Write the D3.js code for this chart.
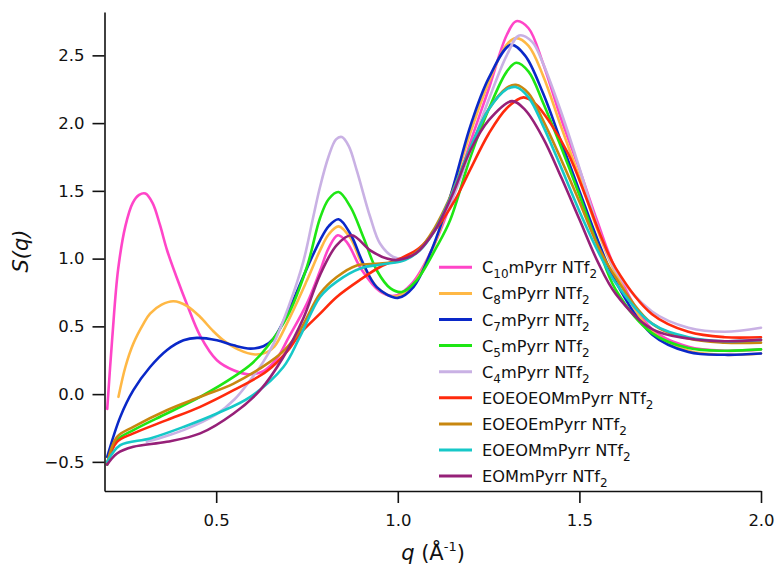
<!DOCTYPE html>
<html>
<head>
<meta charset="utf-8">
<script src="https://cdn.jsdelivr.net/npm/d3@7"></script>
<style>
  html, body { margin: 0; padding: 0; background: #fff; }
  svg { display: block; }
  text { font-family: "DejaVu Sans", sans-serif; fill: #111; }
</style>
</head>
<body>
<svg id="chart" width="775" height="570"></svg>
<script>
// Structure factor S(q) of pyrrolidinium NTf2 ionic liquids: [q (Å^-1), S(q)] knots
const c10mPyrr = [[0.2,-0.11],[0.214,0.42],[0.23,0.92],[0.25,1.24],[0.27,1.41],[0.288,1.47],[0.305,1.48],[0.325,1.41],[0.345,1.25],[0.365,1.06],[0.39,0.87],[0.42,0.66],[0.456,0.43],[0.502,0.25],[0.548,0.176],[0.588,0.147],[0.63,0.17],[0.667,0.262],[0.7,0.42],[0.75,0.67],[0.786,0.91],[0.81,1.08],[0.835,1.172],[0.86,1.12],[0.9,0.92],[0.95,0.76],[0.99,0.725],[1.04,0.82],[1.1,1.1],[1.15,1.44],[1.2,1.86],[1.25,2.25],[1.3,2.65],[1.326,2.752],[1.36,2.7],[1.4,2.44],[1.45,2.03],[1.5,1.66],[1.55,1.27],[1.6,0.92],[1.7,0.48],[1.8,0.35],[1.9,0.32],[2.0,0.33]];
const c8mPyrr = [[0.231,-0.02],[0.25,0.2],[0.272,0.373],[0.3,0.52],[0.318,0.594],[0.35,0.66],[0.3825,0.685],[0.42,0.65],[0.456,0.569],[0.49,0.47],[0.52,0.397],[0.56,0.33],[0.607,0.292],[0.64,0.31],[0.66,0.35],[0.7,0.55],[0.75,0.84],[0.786,1.061],[0.81,1.18],[0.837,1.238],[0.87,1.15],[0.9,0.97],[0.95,0.77],[0.995,0.72],[1.04,0.8],[1.1,1.1],[1.15,1.5],[1.2,1.93],[1.25,2.3],[1.3,2.58],[1.326,2.627],[1.36,2.57],[1.4,2.35],[1.45,1.97],[1.5,1.6],[1.55,1.21],[1.6,0.89],[1.7,0.46],[1.8,0.32],[1.9,0.29],[2.0,0.3]];
const c7mPyrr = [[0.2,-0.463],[0.236,-0.168],[0.272,0.029],[0.318,0.2],[0.364,0.324],[0.41,0.397],[0.447,0.415],[0.502,0.397],[0.548,0.36],[0.594,0.336],[0.63,0.353],[0.658,0.41],[0.7,0.62],[0.75,0.93],[0.786,1.135],[0.81,1.24],[0.837,1.29],[0.87,1.18],[0.905,0.963],[0.942,0.79],[1.0,0.71],[1.043,0.79],[1.089,1.037],[1.144,1.454],[1.2,1.98],[1.25,2.33],[1.311,2.578],[1.35,2.5],[1.4,2.22],[1.45,1.86],[1.5,1.5],[1.55,1.14],[1.6,0.83],[1.7,0.44],[1.8,0.31],[1.9,0.29],[2.0,0.3]];
const c5mPyrr = [[0.2,-0.52],[0.227,-0.34],[0.272,-0.266],[0.364,-0.143],[0.456,-0.02],[0.548,0.127],[0.6,0.23],[0.64,0.348],[0.695,0.569],[0.75,0.94],[0.786,1.3],[0.81,1.44],[0.837,1.491],[0.87,1.38],[0.905,1.159],[0.942,0.914],[0.98,0.78],[1.011,0.754],[1.052,0.84],[1.107,1.086],[1.144,1.283],[1.2,1.75],[1.25,2.1],[1.3,2.38],[1.326,2.445],[1.36,2.38],[1.4,2.15],[1.45,1.82],[1.5,1.47],[1.55,1.1],[1.6,0.77],[1.7,0.45],[1.8,0.34],[1.9,0.32],[2.0,0.33]];
const c4mPyrr = [[0.309,-0.352],[0.35,-0.32],[0.41,-0.266],[0.5,-0.15],[0.55,-0.04],[0.594,0.103],[0.63,0.24],[0.658,0.373],[0.7,0.65],[0.74,0.98],[0.765,1.28],[0.786,1.53],[0.809,1.75],[0.83,1.88],[0.846,1.897],[0.865,1.83],[0.887,1.651],[0.924,1.307],[0.951,1.111],[0.988,1.012],[1.02,1.0],[1.06,1.06],[1.1,1.2],[1.15,1.44],[1.2,1.8],[1.25,2.17],[1.3,2.5],[1.334,2.647],[1.37,2.6],[1.4,2.44],[1.45,2.08],[1.5,1.67],[1.55,1.24],[1.6,0.91],[1.7,0.61],[1.8,0.49],[1.9,0.46],[2.0,0.49]];
const eoeoeomPyrr = [[0.2,-0.51],[0.227,-0.352],[0.272,-0.29],[0.364,-0.192],[0.456,-0.094],[0.548,0.029],[0.64,0.17],[0.7,0.33],[0.731,0.447],[0.786,0.594],[0.832,0.717],[0.9,0.85],[0.951,0.938],[1.016,1.012],[1.06,1.08],[1.1,1.2],[1.157,1.43],[1.2,1.66],[1.25,1.92],[1.3,2.11],[1.346,2.19],[1.38,2.14],[1.42,2.0],[1.47,1.77],[1.52,1.44],[1.56,1.16],[1.6,0.93],[1.7,0.59],[1.8,0.46],[1.9,0.42],[2.0,0.42]];
const eoeoemPyrr = [[0.2,-0.51],[0.227,-0.316],[0.272,-0.242],[0.364,-0.119],[0.456,-0.02],[0.548,0.078],[0.649,0.24],[0.69,0.33],[0.731,0.471],[0.786,0.742],[0.832,0.864],[0.887,0.95],[0.951,0.963],[1.016,0.99],[1.06,1.07],[1.1,1.22],[1.14,1.43],[1.2,1.82],[1.25,2.1],[1.3,2.26],[1.325,2.283],[1.36,2.22],[1.4,2.02],[1.45,1.73],[1.5,1.42],[1.55,1.1],[1.6,0.86],[1.7,0.52],[1.8,0.41],[1.9,0.38],[2.0,0.38]];
const eoeommPyrr = [[0.2,-0.5],[0.236,-0.377],[0.318,-0.327],[0.41,-0.242],[0.502,-0.143],[0.594,-0.02],[0.685,0.2],[0.73,0.42],[0.786,0.717],[0.832,0.83],[0.9,0.93],[0.95,0.955],[1.02,0.99],[1.06,1.06],[1.1,1.2],[1.14,1.42],[1.2,1.82],[1.25,2.1],[1.3,2.25],[1.325,2.266],[1.36,2.19],[1.4,1.98],[1.45,1.67],[1.5,1.35],[1.55,1.06],[1.6,0.82],[1.7,0.52],[1.8,0.42],[1.9,0.39],[2.0,0.4]];
const eommPyrr = [[0.2,-0.52],[0.227,-0.438],[0.272,-0.389],[0.364,-0.352],[0.456,-0.29],[0.548,-0.143],[0.621,0.029],[0.685,0.274],[0.74,0.56],[0.786,0.88],[0.832,1.1],[0.873,1.172],[0.924,1.061],[0.97,1.0],[1.0,0.99],[1.05,1.04],[1.1,1.2],[1.15,1.47],[1.2,1.8],[1.25,2.02],[1.314,2.162],[1.35,2.1],[1.4,1.89],[1.45,1.6],[1.5,1.29],[1.55,0.98],[1.6,0.74],[1.7,0.48],[1.8,0.41],[1.9,0.39],[2.0,0.4]];

// Legend labels: [main, subscript, main, subscript]
const labels = [
  ["C", "10", "mPyrr NTf", "2"],
  ["C", "8", "mPyrr NTf", "2"],
  ["C", "7", "mPyrr NTf", "2"],
  ["C", "5", "mPyrr NTf", "2"],
  ["C", "4", "mPyrr NTf", "2"],
  ["EOEOEOMmPyrr NTf", "2"],
  ["EOEOEmPyrr NTf", "2"],
  ["EOEOMmPyrr NTf", "2"],
  ["EOMmPyrr NTf", "2"]
];
const seriesData = [c10mPyrr, c8mPyrr, c7mPyrr, c5mPyrr, c4mPyrr, eoeoeomPyrr, eoeoemPyrr, eoeommPyrr, eommPyrr];
const colors = ["#ff45c8", "#ffb845", "#0a28c8", "#1ee614", "#c9b1e4", "#ff2a0c", "#c8870f", "#16c8c8", "#962078"];

const xTicks = [0.5, 1.0, 1.5, 2.0];
const yTicks = [-0.5, 0.0, 0.5, 1.0, 1.5, 2.0, 2.5];
const xDomain = [0.1925, 2.0];
const yDomain = [-0.715, 2.82];

const svg = d3.select("#chart");
const plot = { left: 104.5, right: 761, top: 12, bottom: 491 };

const x = d3.scaleLinear().domain(xDomain).range([plot.left, plot.right]);
const y = d3.scaleLinear().domain(yDomain).range([plot.bottom, plot.top]);

svg.append("rect").attr("width", 775).attr("height", 570).attr("fill", "#fff");

// curves
const line = d3.line()
  .x(d => x(d[0]))
  .y(d => y(d[1]))
  .curve(d3.curveCatmullRom.alpha(0.5));

svg.append("g")
  .selectAll("path")
  .data(seriesData)
  .join("path")
  .attr("d", line)
  .attr("fill", "none")
  .attr("stroke", (d, i) => colors[i])
  .attr("stroke-width", 2.6)
  .attr("stroke-linejoin", "round")
  .attr("stroke-linecap", "round");

// axes
const fmt = d3.format(".1f");
const xAxis = svg.append("g")
  .attr("transform", `translate(0,${plot.bottom})`)
  .call(d3.axisBottom(x).tickValues(xTicks).tickFormat(fmt).tickSize(12).tickSizeOuter(0).tickPadding(11));
const yAxis = svg.append("g")
  .attr("transform", `translate(${plot.left},0)`)
  .call(d3.axisLeft(y).tickValues(yTicks).tickFormat(fmt).tickSize(12).tickSizeOuter(0).tickPadding(8));

[xAxis, yAxis].forEach(g => {
  g.select(".domain").attr("stroke", "#111").attr("stroke-width", 1.6);
  g.selectAll(".tick line").attr("stroke", "#111").attr("stroke-width", 1.6);
  g.selectAll(".tick text")
    .attr("font-family", "DejaVu Sans, sans-serif")
    .attr("font-size", 16.5)
    .attr("fill", "#111");
});

// axis titles
const yTitle = svg.append("text")
  .attr("transform", "translate(28,251) rotate(-90)")
  .attr("text-anchor", "middle")
  .attr("font-size", 21)
  .attr("font-style", "italic");
yTitle.text("S(q)");

const xTitle = svg.append("text")
  .attr("x", 433)
  .attr("y", 560)
  .attr("text-anchor", "middle")
  .attr("font-size", 21);
xTitle.append("tspan").attr("font-style", "italic").text("q");
xTitle.append("tspan").text(" (Å");
xTitle.append("tspan").attr("dy", -9).attr("font-size", 13).text("-1");
xTitle.append("tspan").attr("dy", 9).text(")");

// legend
const legend = svg.append("g");
const rowH = 26.1, legTop = 267.3;
labels.forEach((parts, i) => {
  const cy = legTop + i * rowH;
  legend.append("line")
    .attr("x1", 439).attr("x2", 472)
    .attr("y1", cy).attr("y2", cy)
    .attr("stroke", colors[i]).attr("stroke-width", 3);
  const t = legend.append("text")
    .attr("x", 482).attr("y", cy + 6)
    .attr("font-size", 16.2);
  let sub = false;
  parts.forEach((p, k) => {
    const isSub = (parts.length === 4) ? (k % 2 === 1) : (k === 1);
    const ts = t.append("tspan").text(p);
    if (isSub && !sub) { ts.attr("dy", 5).attr("font-size", 12); sub = true; }
    else if (!isSub && sub) { ts.attr("dy", -5); sub = false; }
  });
});
</script>
</body>
</html>
